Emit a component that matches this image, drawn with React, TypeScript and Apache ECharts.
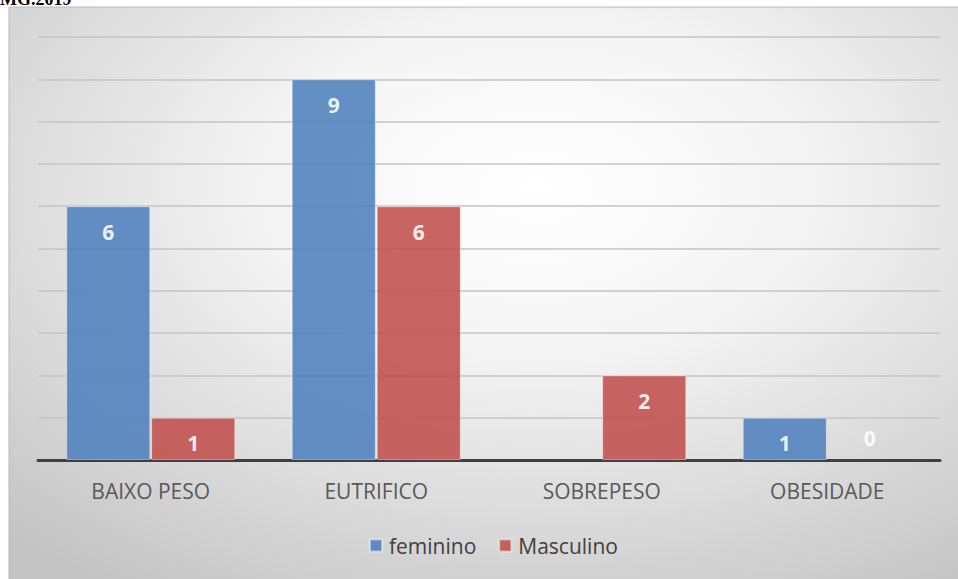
import React, { useEffect, useRef } from "react";
import * as echarts from "echarts";

const categories = ["BAIXO PESO", "EUTRIFICO", "SOBREPESO", "OBESIDADE"];
const seriesNames = ["feminino", "Masculino"];
const feminino = [6, 9, null, 1];
const masculino = [1, 6, 2, 0];
const titleText = "MG.2019";

export default function App() {
  const ref = useRef<HTMLDivElement>(null);
  useEffect(() => {
    const chart = echarts.init(ref.current!, undefined, { renderer: "svg" });
    const mkData = (arr: (number | null)[]) =>
      arr.map((v) =>
        v === 0
          ? {
              value: v,
              label: { position: "top", distance: 12 },
              itemStyle: { borderWidth: 0 },
            }
          : v
      );
    const labelStyle = {
      show: true,
      position: "insideTop",
      distance: 15,
      color: "#ffffff",
      fontWeight: "bold",
      fontSize: 21,
      fontFamily: "Open Sans",
    };
    chart.setOption({
      animation: false,
      graphic: [
        {
          type: "rect",
          z: -10,
          shape: { x: 9, y: 7, width: 960, height: 600 },
          style: {
            fill: {
              type: "radial",
              x: 0.55,
              y: 0.3,
              r: 0.8,
              colorStops: [
                { offset: 0, color: "#ffffff" },
                { offset: 0.35, color: "#f4f4f4" },
                { offset: 1, color: "#c4c4c4" },
              ],
            },
            stroke: "#b8b8b8",
            lineWidth: 1,
          },
          silent: true,
        },
        {
          type: "text",
          left: 0,
          top: -10,
          style: {
            text: titleText,
            fontFamily: "Liberation Serif",
            fontSize: 18,
            fontWeight: "bold",
            fill: "#000000",
          },
        },
      ],
      grid: { left: 38, right: 18, top: 37, bottom: 119 },
      xAxis: {
        type: "category",
        data: categories,
        axisLine: { show: true, lineStyle: { color: "#404040", width: 3 } },
        axisTick: { show: false },
        axisLabel: {
          color: "#595959",
          fontSize: 21,
          fontFamily: "Open Sans",
          margin: 20,
        },
      },
      yAxis: {
        type: "value",
        min: 0,
        max: 10,
        interval: 1,
        axisLabel: { show: false },
        axisLine: { show: false },
        axisTick: { show: false },
        splitLine: { show: true, lineStyle: { color: "#c4c4c4", width: 1.5 } },
      },
      legend: {
        top: 530,
        left: 364,
        itemWidth: 12,
        itemHeight: 12,
        itemGap: 22,
        icon: "rect",
        textStyle: {
          color: "#404040",
          fontSize: 21,
          fontFamily: "Open Sans",
          padding: [0, 0, 0, 2],
        },
        data: seriesNames,
      },
      series: [
        {
          name: seriesNames[0],
          type: "bar",
          data: mkData(feminino),
          barCategoryGap: "25%",
          barGap: "1%",
          itemStyle: {
            color: "#4f81bd",
            opacity: 0.88,
            borderColor: "rgba(255,255,255,0.5)",
            borderWidth: 1,
          },
          label: labelStyle,
          z: 1,
        },
        {
          name: seriesNames[1],
          type: "bar",
          data: mkData(masculino),
          barCategoryGap: "25%",
          barGap: "1%",
          itemStyle: {
            color: "#c0504d",
            opacity: 0.88,
            borderColor: "rgba(255,255,255,0.5)",
            borderWidth: 1,
          },
          label: labelStyle,
          z: 1,
        },
      ],
    });
    return () => chart.dispose();
  }, []);
  return (
    <div
      ref={ref}
      style={{ position: "absolute", left: 0, top: 0, width: 958, height: 579 }}
    />
  );
}
